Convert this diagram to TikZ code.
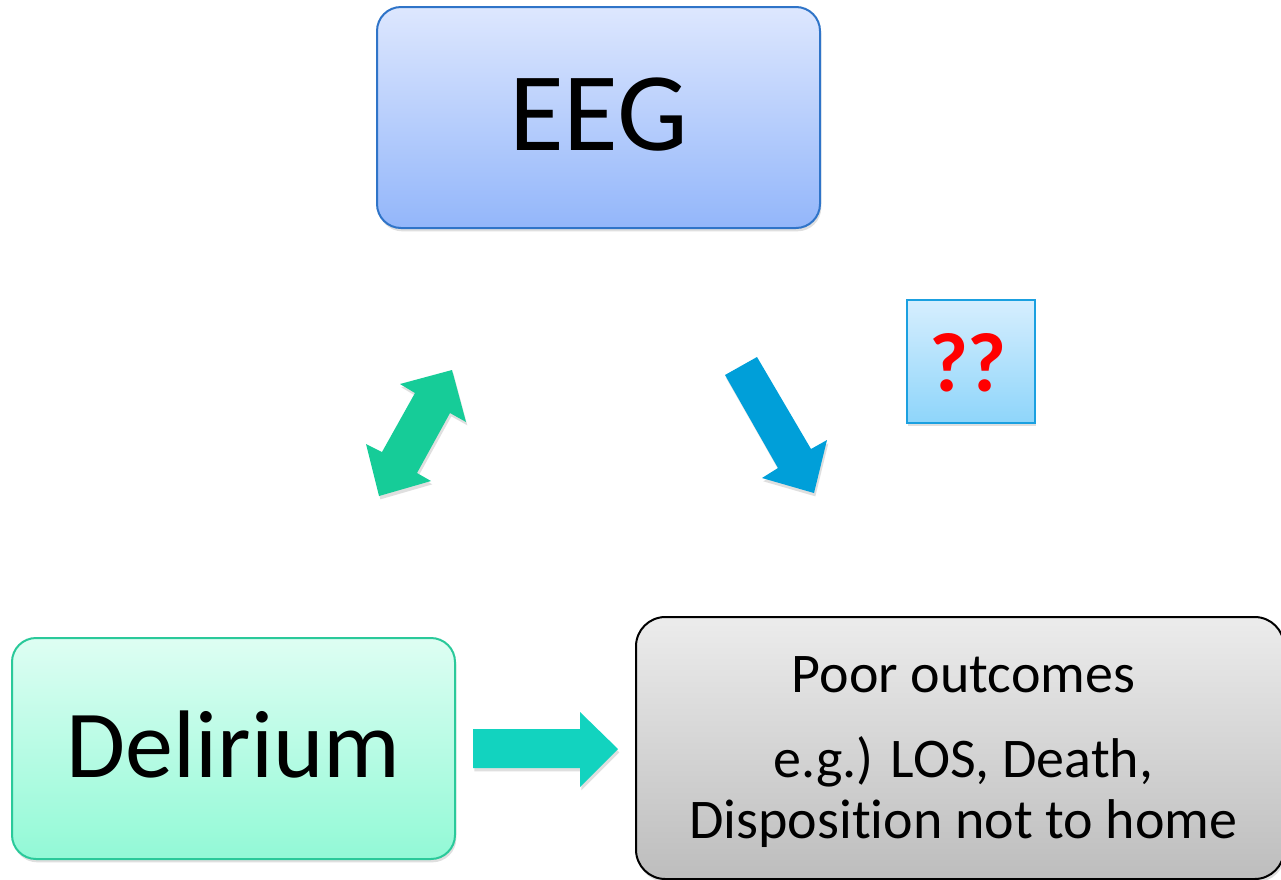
\documentclass[tikz,border=0pt]{standalone}
\usepackage{fontspec}
\setmainfont{Carlito}[Ligatures=NoCommon]
\usetikzlibrary{shadows}
\definecolor{eegtop}{HTML}{DDE7FE}
\definecolor{eegbot}{HTML}{93B6FA}
\definecolor{eegdraw}{HTML}{2F74C8}
\definecolor{deltop}{HTML}{DEFEF3}
\definecolor{delbot}{HTML}{92F9D6}
\definecolor{deldraw}{HTML}{2AC99A}
\definecolor{outtop}{HTML}{ECECEC}
\definecolor{outbot}{HTML}{BDBDBD}
\definecolor{qtop}{HTML}{D6EEFE}
\definecolor{qbot}{HTML}{8ED5FA}
\definecolor{qdraw}{HTML}{1BA0E0}
\definecolor{greenarrow}{HTML}{16CC98}
\definecolor{bluearrow}{HTML}{009FD9}
\definecolor{turqarrow}{HTML}{12D3BF}
\tikzset{
  shad/.style={drop shadow={opacity=0.25,shadow xshift=1pt,shadow yshift=-2.5pt}},
  mainbox/.style={rectangle, rounded corners=18pt, line width=1.5pt, shad,
    minimum width=332.25pt, minimum height=165.75pt, inner sep=0pt},
  txt/.style={anchor=base, inner sep=0pt},
  outfont/.style={font=\fontsize{42pt}{46pt}\selectfont},
  blockarrow/.style={draw=none, shad}
}
\begin{document}
\begin{tikzpicture}[x=0.75pt,y=-0.75pt]
\useasboundingbox (0,0) rectangle (1281,879);
\clip (0,0) rectangle (1281,879);
\fill[white] (0,0) rectangle (1281,879);

% boxes
\node[mainbox, draw=eegdraw, top color=eegtop, bottom color=eegbot] (eeg) at (598.5,117.5) {};
\node[mainbox, draw=deldraw, top color=deltop, bottom color=delbot] (del) at (233.5,748.5) {};
\node[mainbox, draw=black, top color=outtop, bottom color=outbot,
  minimum width=486pt, minimum height=196.5pt, rounded corners=22pt] (out) at (960,748) {};
\node[rectangle, line width=1.2pt, draw=qdraw, top color=qtop, bottom color=qbot, shad,
  minimum width=96pt, minimum height=92.25pt, inner sep=0pt] (q) at (971,361.5) {};

% texts
\node[txt, font=\fontsize{84pt}{90pt}\selectfont] (eegt) at (598.5,150) {EEG};
\node[txt, font=\fontsize{72pt}{78pt}\selectfont] (delt) at (233.5,777) {Delirium};
\node[txt, outfont] (out1) at (963.5,692) {Poor outcomes};
\node[txt, outfont] (out2) at (963.5,777) {e.g.) LOS, Death,};
\node[txt, outfont] (out3) at (963.5,838) {Disposition not to home};
\node[txt, font=\fontsize{63pt}{68pt}\selectfont\bfseries, text=red] (qt) at (968,391) {??};

% arrows
\fill[greenarrow, blockarrow] (452,370) -- (466,422) -- (450,413) -- (417,473) -- (431,481)
  -- (379,496) -- (366,444) -- (382,452) -- (415,393) -- (400,384) -- cycle;
\fill[bluearrow, blockarrow] (725,375) -- (757,357) -- (811,449) -- (827,440) -- (814,493)
  -- (762,478) -- (778,468) -- cycle;
\fill[turqarrow, blockarrow] (473,729) -- (580,729) -- (580,712) -- (618,749) -- (580,787)
  -- (580,768) -- (473,768) -- cycle;
\end{tikzpicture}
\end{document}
